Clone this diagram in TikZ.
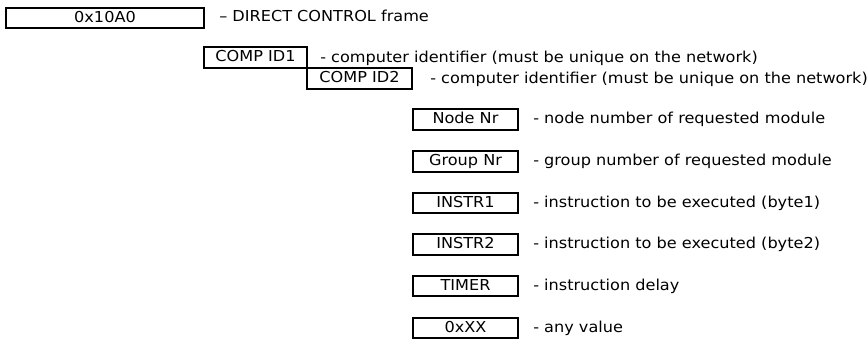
\documentclass[tikz,border=0pt]{standalone}
\usepackage{fontspec}
\setmainfont{DejaVu Sans}[FakeStretch=1.07]
\begin{document}
\begin{tikzpicture}[x=0.75pt,y=-0.75pt,
  fbox/.style={draw, line width=1.5pt, minimum height=15.4pt, inner sep=0pt,
    text height=8.2pt, text depth=2.1pt, font=\fontsize{11.3}{13}\selectfont},
  lbl/.style={anchor=west, inner sep=0pt, text height=8.2pt, text depth=2.1pt,
    font=\fontsize{11.3}{13}\selectfont}]
\useasboundingbox (0,0) rectangle (868,340);
% top frame
\node[fbox, minimum width=148.5pt, minimum height=14.3pt] (frame) at (105,18) {0x10A0};
\node[lbl] (framel) at (219,17.5) {– DIRECT CONTROL frame};
% computer ids
\node[fbox, minimum width=77.25pt] (cid1) at (255.5,57.5) {COMP ID1};
\node[fbox, minimum width=78.75pt] (cid2) at (359.5,78.5) {COMP ID2};
\node[lbl] (cid1l) at (320,58) {- computer identifier (must be unique on the network)};
\node[lbl] (cid2l) at (430,79) {- computer identifier (must be unique on the network)};
% fields
\node[fbox, minimum width=78.75pt] (node) at (465.5,119.5) {Node Nr};
\node[fbox, minimum width=78.75pt] (group) at (465.5,161.5) {Group Nr};
\node[fbox, minimum width=78.75pt] (instr1) at (465.5,203) {INSTR1};
\node[fbox, minimum width=78.75pt] (instr2) at (465.5,244.5) {INSTR2};
\node[fbox, minimum width=78.75pt] (timer) at (465.5,286) {TIMER};
\node[fbox, minimum width=78.75pt] (xx) at (465.5,328) {0xXX};
\node[lbl] (nodel) at (533,119.5) {- node number of requested module};
\node[lbl] (groupl) at (533,161.5) {- group number of requested module};
\node[lbl] (instr1l) at (533,203) {- instruction to be executed (byte1)};
\node[lbl] (instr2l) at (533,244.5) {- instruction to be executed (byte2)};
\node[lbl] (timerl) at (533,286) {- instruction delay};
\node[lbl] (xxl) at (533,328) {- any value};
\end{tikzpicture}
\end{document}
